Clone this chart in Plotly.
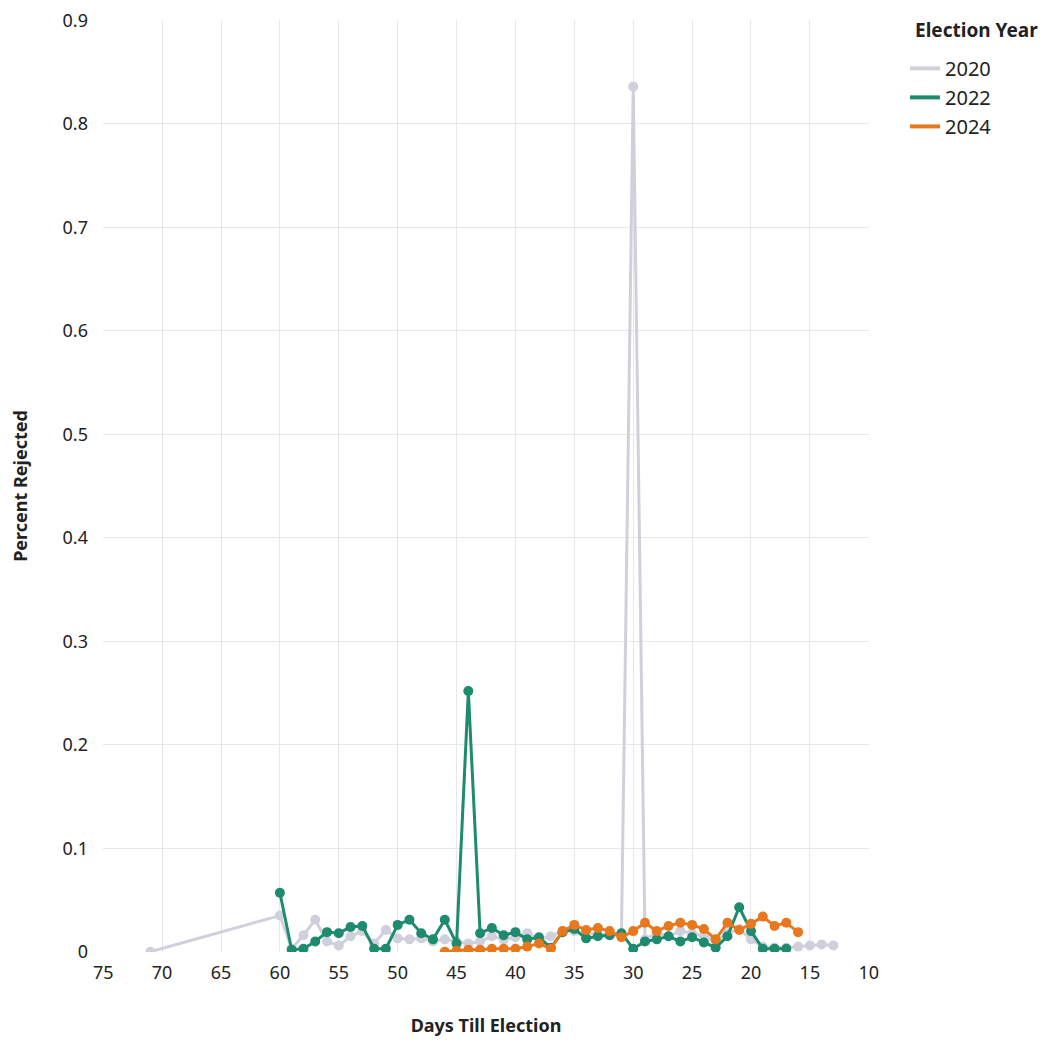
import plotly.graph_objects as go

# ---- data ----
days_2020 = [71, 60, 59, 58, 57, 56, 55, 54, 53, 52, 51, 50, 49, 48, 47, 46, 45, 44, 43, 42,
             41, 40, 39, 38, 37, 36, 35, 34, 33, 32, 31, 30, 29, 28, 27, 26, 25, 24, 23, 22,
             21, 20, 19, 18, 17, 16, 15, 14, 13]
vals_2020 = [0.0, 0.035, 0.003, 0.016, 0.031, 0.01, 0.006, 0.015, 0.02, 0.008, 0.021, 0.013, 0.012, 0.013, 0.01, 0.012, 0.01, 0.008, 0.01, 0.015,
             0.012, 0.014, 0.018, 0.012, 0.015, 0.02, 0.02, 0.018, 0.018, 0.016, 0.015, 0.836, 0.012, 0.018, 0.015, 0.02, 0.018, 0.015, 0.01, 0.018,
             0.022, 0.012, 0.005, 0.004, 0.004, 0.005, 0.006, 0.007, 0.006]

days_2022 = [60, 59, 58, 57, 56, 55, 54, 53, 52, 51, 50, 49, 48, 47, 46, 45, 44, 43, 42, 41,
             40, 39, 38, 37, 36, 35, 34, 33, 32, 31, 30, 29, 28, 27, 26, 25, 24, 23, 22, 21,
             20, 19, 18, 17]
vals_2022 = [0.057, 0.002, 0.003, 0.01, 0.019, 0.018, 0.024, 0.025, 0.003, 0.003, 0.026, 0.031, 0.018, 0.012, 0.031, 0.008, 0.252, 0.018, 0.023, 0.016,
             0.019, 0.012, 0.014, 0.004, 0.019, 0.022, 0.013, 0.015, 0.016, 0.018, 0.003, 0.01, 0.012, 0.015, 0.01, 0.014, 0.009, 0.004, 0.015, 0.043,
             0.02, 0.003, 0.003, 0.003]

days_2024 = [46, 45, 44, 43, 42, 41, 40, 39, 38, 37, 36, 35, 34, 33, 32, 31, 30, 29, 28, 27,
             26, 25, 24, 23, 22, 21, 20, 19, 18, 17, 16]
vals_2024 = [0.0, 0.001, 0.002, 0.002, 0.003, 0.003, 0.003, 0.005, 0.008, 0.003, 0.02, 0.026, 0.021, 0.023, 0.02, 0.014, 0.02, 0.028, 0.02, 0.025,
             0.028, 0.026, 0.022, 0.012, 0.028, 0.021, 0.027, 0.034, 0.025, 0.028, 0.019]

years = ["2020", "2022", "2024"]
colors = ["#d0d0dd", "#1e8a6e", "#e8781e"]
x_ticks = [75, 70, 65, 60, 55, 50, 45, 40, 35, 30, 25, 20, 15, 10]
y_ticks = [0, 0.1, 0.2, 0.3, 0.4, 0.5, 0.6, 0.7, 0.8, 0.9]
y_tick_text = ["0", "0.1", "0.2", "0.3", "0.4", "0.5", "0.6", "0.7", "0.8", "0.9"]

series = [(days_2020, vals_2020), (days_2022, vals_2022), (days_2024, vals_2024)]

FONT = "Noto Sans"
fig = go.Figure()
for (dx, vy), name, c in zip(series, years, colors):
    fig.add_trace(go.Scatter(
        x=dx, y=vy, mode="lines+markers", name=name, showlegend=False,
        line=dict(color=c, width=3), marker=dict(color=c, size=10),
        hovertemplate="%{x}: %{y}<extra>" + name + "</extra>"))
for name, c in zip(years, colors):
    fig.add_trace(go.Scatter(x=[None], y=[None], mode="lines", name=name,
                             line=dict(color=c, width=4)))

fig.add_annotation(text="<b>Election Year</b>", xref="paper", yref="paper",
                   x=1.057, y=0.989, xanchor="left", yanchor="middle",
                   showarrow=False, font=dict(size=19, family=FONT, color="#222222"))

fig.update_layout(
    width=1052, height=1043,
    margin=dict(l=95, r=191, t=12, b=99, autoexpand=False),
    paper_bgcolor="white", plot_bgcolor="white",
    font=dict(family=FONT, size=18, color="#222222"),
    legend=dict(
        x=1.047, xanchor="left", y=0.969, yanchor="top",
        font=dict(size=20), itemwidth=30, tracegroupgap=0,
    ),
    xaxis=dict(
        range=[75.02, 9.98], tickvals=x_ticks, showgrid=True, gridcolor="#e8e8ec",
        gridwidth=1, zeroline=False, showline=False, ticks="", ticklabelstandoff=8,
        tickfont=dict(size=18), automargin=False, ticklabeloverflow="allow",
        title=dict(text="<b>Days Till Election</b>", font=dict(size=18), standoff=36),
    ),
    yaxis=dict(
        range=[-0.0002, 0.9004], tickvals=y_ticks, ticktext=y_tick_text, showgrid=True,
        gridcolor="#e8e8ec", gridwidth=1, zeroline=False, showline=False, ticks="",
        tickfont=dict(size=18), ticklabelstandoff=14, automargin=False,
        ticklabeloverflow="allow",
        title=dict(text="<b>Percent Rejected</b>", font=dict(size=18), standoff=32),
    ),
)

fig.write_html("out.html")
